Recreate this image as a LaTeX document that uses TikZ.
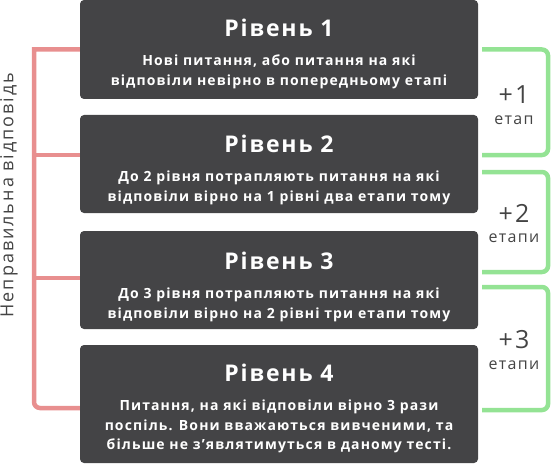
\documentclass[tikz,border=0pt]{standalone}
\usepackage{fontspec}
\setmainfont{Open Sans}
\newfontfamily\widefont{Open Sans}[LetterSpace=8]
\newfontfamily\widerfont{Open Sans}[LetterSpace=11]
\usetikzlibrary{positioning}
\definecolor{boxgray}{HTML}{444446}
\definecolor{wrongred}{HTML}{E88F8F}
\definecolor{stepgreen}{HTML}{94E394}
\definecolor{labelgray}{HTML}{444444}
\tikzstyle{level} = [rectangle, rounded corners=4pt, minimum width=398pt, fill=boxgray, inner sep=0pt]
\tikzstyle{title} = [text=white, font=\widefont\bfseries\fontsize{23}{26}\selectfont, inner sep=0pt]
\tikzstyle{desc} = [text=white, font=\widefont\bfseries\fontsize{14}{19.5}\selectfont, align=center, inner sep=0pt]
\tikzstyle{plus} = [text=labelgray, font=\widefont\fontsize{25}{28}\selectfont, inner sep=0pt]
\tikzstyle{stage} = [text=labelgray, font=\widefont\fontsize{16}{18}\selectfont, inner sep=0pt]
\tikzstyle{wrong} = [line width=4.5pt, draw=wrongred]
\tikzstyle{again} = [line width=4.5pt, draw=stepgreen, rounded corners=6pt]

\begin{document}
\begin{tikzpicture}[x=1pt,y=-1pt]
	\useasboundingbox (0,0) rectangle (553,465);
	% рівні
	\node (lvl1) [level, minimum height=99pt] at (279,49.5) {};
	\node (lvl2) [level, minimum height=98pt] at (279,164) {};
	\node (lvl3) [level, minimum height=98pt] at (279,280) {};
	\node (lvl4) [level, minimum height=118pt] at (279,404) {};
	\node (t1) [title, below=19pt of lvl1.north] {Рівень 1};
	\node (t2) [title, below=20pt of lvl2.north] {Рівень 2};
	\node (t3) [title, below=21pt of lvl3.north] {Рівень 3};
	\node (t4) [title, below=19pt of lvl4.north] {Рівень 4};
	\node (d1) [desc, below=18pt of t1] {Нові питання, або питання на які\\відповіли невірно в попередньому етапі};
	\node (d2) [desc, below=18pt of t2] {До 2 рівня потрапляють питання на які\\відповіли вірно на 1 рівні два етапи тому};
	\node (d3) [desc, below=18pt of t3] {До 3 рівня потрапляють питання на які\\відповіли вірно на 2 рівні три етапи тому};
	\node (d4) [desc, below=18pt of t4] {Питання, на які відповіли вірно 3 рази\\поспіль. Вони вважаються вивченими, та\\більше не з’являтимуться в даному тесті.};
	% неправильна відповідь
	\draw [wrong] (lvl1.west) -- (34,49.5) [rounded corners=6pt] -- (34,408) -- ([yshift=-4pt]lvl4.west);
	\draw [wrong] ([yshift=9pt]lvl2.west) -- +(-46,0);
	\draw [wrong] ([yshift=2pt]lvl3.west) -- +(-46,0);
	\node (wrongtxt) [rotate=90, text=labelgray, inner sep=0pt, font=\widerfont\fontsize{18}{20}\selectfont] at (9,195) {Неправильна відповідь};
	% етапи
	\draw [again] ([xshift=4pt]lvl1.east) -- (548,49.5) -- (548,155) -- ([xshift=4pt,yshift=9pt]lvl2.east);
	\draw [again] ([xshift=4pt,yshift=-8pt]lvl2.east) -- (548,172) -- (548,272) -- ([xshift=4pt,yshift=8pt]lvl3.east);
	\draw [again] ([xshift=4pt,yshift=-7pt]lvl3.east) -- (548,287) -- (548,410) -- ([xshift=4pt,yshift=-6pt]lvl4.east);
	\node (p1) [plus] at (514,95) {+1};
	\node (p2) [plus] at (514,213) {+2};
	\node (p3) [plus] at (514,340) {+3};
	\node (e1) [stage] at (514,120) {етап};
	\node (e2) [stage] at (514,238) {етапи};
	\node (e3) [stage] at (514,365) {етапи};
\end{tikzpicture}
\end{document}
